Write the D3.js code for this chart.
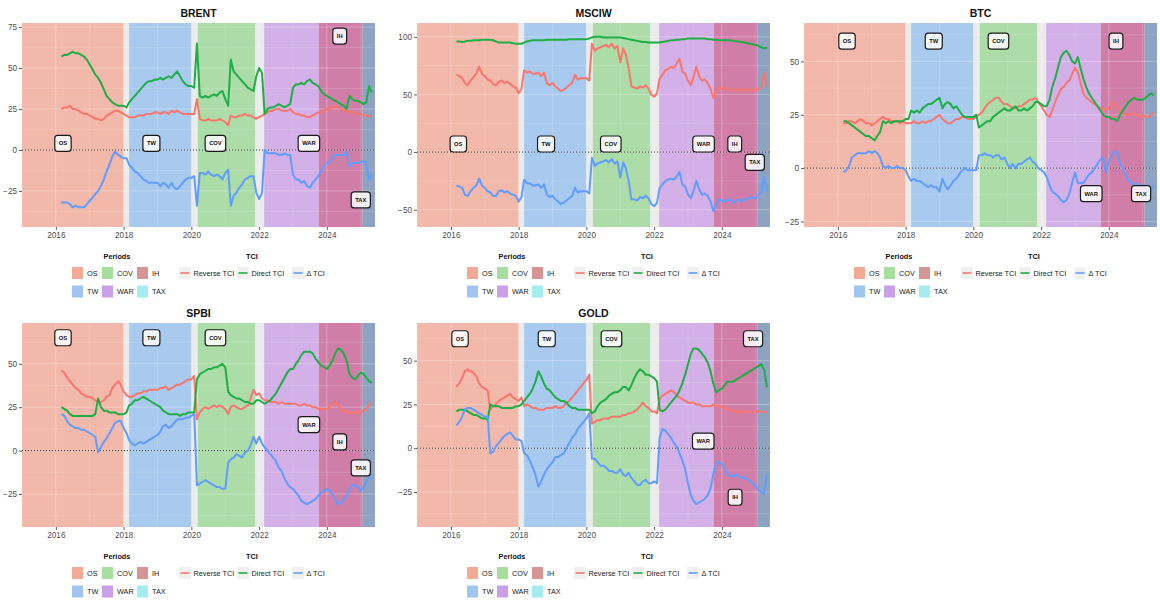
<!DOCTYPE html>
<html>
<head>
<meta charset="utf-8">
<script src="https://cdn.jsdelivr.net/npm/d3@7"></script>
<style>
  html, body { margin: 0; padding: 0; background: #ffffff; }
  svg { display: block; font-family: "Liberation Sans", Arial, sans-serif; }
</style>
</head>
<body>
<svg id="chart" width="1160" height="601"></svg>
<script>
// ---------------------------------------------------------------
// Monthly observations, March 2016 to May 2025 (111 months)
// ---------------------------------------------------------------
const months = d3.timeMonth.range(new Date(2016, 2, 1), new Date(2025, 5, 1));

// Event periods
const periodNames  = ["OS", "TW", "COV", "WAR", "IH", "TAX"];
const periodStarts = ["2015-01-01", "2018-03-01", "2020-03-11", "2022-02-24", "2023-10-07", "2025-01-20"];
const periodEnds   = ["2018-01-01", "2020-01-01", "2021-11-18", "2023-10-07", "2025-01-20", "2025-06-03"];
const periodFills  = ["#f2b8aa", "#a9caef", "#acdca7", "#d3b1e8", "#d07ea8", "#8ea3c2"];
const periodKeys   = ["#f2a995", "#9fc5f0", "#a6dea0", "#c9a0e8", "#d69595", "#a5ecf0"];

// Connectedness series
const tciNames  = ["Reverse TCI", "Direct TCI", "\u0394 TCI"];
const tciColors = ["#F8766D", "#1fae45", "#619CFF"];

// ---------------- BRENT ----------------
const brentReverse = [
  25, 26, 26, 27, 25, 25, 24, 23, 22, 22,
  21, 20, 19, 19, 18, 19, 21, 22, 23, 24, 24, 23,
  22, 21, 20, 20, 20, 21, 21, 21, 22, 22, 22, 23,
  23, 22, 23, 23, 22, 24, 23, 24, 23, 22, 22, 22,
  22, 22, 31, 19, 18, 18, 19, 18, 18, 18, 19, 18,
  17, 15, 21, 20, 20, 21, 21, 22, 21, 21, 20, 19,
  20, 21, 22, 23, 24, 24, 25, 25, 24, 24, 24, 25,
  23, 22, 22, 21, 21, 20, 20, 21, 22, 23, 23, 24,
  25, 25, 26, 27, 26, 25, 24, 24, 23, 23, 22, 22,
  22, 21, 21, 21, 20
];
const brentDirect = [
  57, 58, 58, 59, 60, 59, 59, 58, 57, 55,
  52, 49, 46, 44, 41, 37, 33, 31, 29, 28, 27, 27,
  27, 26, 29, 31, 33, 35, 37, 39, 41, 42, 42, 43,
  43, 44, 43, 44, 45, 44, 46, 48, 45, 42, 40, 39,
  39, 38, 65, 33, 32, 33, 32, 33, 34, 33, 35, 36,
  31, 27, 55, 48, 46, 44, 42, 40, 38, 37, 36, 45,
  50, 47, 22, 25, 26, 26, 27, 28, 27, 26, 27, 28,
  38, 40, 40, 41, 40, 42, 43, 41, 40, 39, 36, 34,
  33, 32, 31, 30, 29, 28, 27, 25, 33, 31, 30, 30,
  29, 28, 29, 39, 35
];
const brentDelta = [
  -32, -32, -32, -33, -35, -34, -35, -35, -35, -33,
  -31, -29, -27, -25, -22, -18, -13, -9, -4, -1, -3, -4,
  -5, -5, -9, -11, -13, -14, -16, -18, -19, -20, -20, -20,
  -20, -22, -20, -21, -23, -20, -23, -24, -22, -20, -18, -17,
  -17, -16, -34, -14, -14, -15, -13, -15, -16, -15, -16, -18,
  -14, -12, -34, -28, -26, -23, -21, -18, -17, -16, -16, -26,
  -30, -26, 0, -2, -2, -2, -2, -3, -3, -2, -3, -3,
  -15, -18, -18, -20, -19, -22, -23, -20, -18, -16, -13, -10,
  -8, -7, -5, -3, -3, -3, -3, -1, -10, -8, -8, -8,
  -7, -7, -8, -18, -15
];
const brentLabels = [["OS", 2016.21, 4], ["TW", 2018.82, 4], ["COV", 2020.71, 4],
                     ["WAR", 2023.47, 4], ["IH", 2024.38, 69.5], ["TAX", 2025.0, -30.5]];

// ---------------- MSCIW ----------------
const msciwReverse = [
  67, 66, 64, 60, 58, 62, 65, 68, 74, 68,
  66, 63, 62, 59, 58, 61, 62, 60, 61, 59, 57, 56,
  51, 55, 71, 69, 70, 68, 68, 69, 66, 69, 60, 58,
  60, 57, 55, 53, 54, 56, 58, 60, 67, 63, 64, 64,
  64, 62, 94, 88, 90, 91, 92, 93, 91, 94, 90, 92,
  78, 90, 85, 73, 57, 56, 55, 57, 56, 58, 55, 50,
  48, 51, 64, 67, 71, 72, 74, 73, 77, 81, 70, 68,
  62, 58, 65, 74, 66, 62, 63, 60, 55, 47, 52, 56,
  55, 54, 56, 55, 53, 54, 55, 53, 54, 53, 55, 54,
  53, 55, 56, 69, 57
];
const msciwDirect = [
  96, 96, 95.5, 96, 96.5, 96.5, 97, 97, 97, 97.5,
  97.5, 97.5, 97.5, 97, 96, 95, 95, 95, 95, 95, 94.5, 94,
  94, 94, 95, 96, 96.5, 97, 97, 97, 97, 97, 97.5, 97.5,
  97.5, 97.5, 97.5, 97.5, 97.5, 97.5, 98, 98, 98, 98, 98, 98,
  98, 98.5, 99.5, 100, 100, 100, 99.5, 99.5, 99.5, 99.5, 99.5, 99.5,
  99.5, 99, 98.5, 98, 97.5, 97, 96.5, 96, 95.5, 95.5, 95, 95,
  95, 95, 95, 95.5, 96, 96.5, 97, 97, 97.5, 97.5, 98, 98,
  98.5, 98.5, 98.5, 98.5, 98.5, 98.5, 98.5, 98, 98, 97.5, 97.5, 97,
  97, 97, 97, 97, 96.5, 96, 96, 95.5, 95, 94.5, 94, 93.5,
  93, 92, 91, 90, 90.5
];
const msciwDelta = [
  -29, -30, -31, -37, -38, -34, -31, -29, -23, -29,
  -31, -34, -35, -38, -38, -34, -33, -35, -34, -36, -37, -38,
  -43, -39, -24, -27, -27, -29, -29, -28, -31, -28, -37, -39,
  -38, -41, -43, -45, -44, -42, -40, -38, -31, -35, -34, -34,
  -34, -36, -5, -12, -10, -9, -8, -7, -9, -6, -10, -8,
  -22, -9, -14, -25, -41, -41, -42, -39, -40, -38, -40, -45,
  -47, -44, -31, -28, -25, -24, -23, -24, -21, -17, -28, -30,
  -37, -40, -34, -25, -32, -37, -36, -38, -43, -51, -46, -41,
  -42, -43, -41, -42, -44, -42, -41, -43, -41, -41, -39, -40,
  -40, -37, -35, -21, -34
];
const msciwLabels = [["OS", 2016.22, 7], ["TW", 2018.81, 7], ["COV", 2020.72, 7],
                     ["WAR", 2023.46, 7], ["IH", 2024.38, 7], ["TAX", 2024.97, -9]];

// ---------------- BTC ----------------
const btcReverse = [
  21, 21, 22, 22, 21, 22, 23, 22, 21, 21,
  20, 21, 22, 23, 24, 23, 23, 22, 22, 22, 21, 22,
  21, 21, 21, 22, 21, 21, 22, 21, 22, 22, 23, 24,
  25, 23, 22, 21, 21, 22, 23, 23, 24, 24, 23, 23,
  23, 24, 25, 26, 28, 30, 31, 32, 33, 33, 31, 30,
  30, 29, 28, 28, 29, 29, 30, 31, 32, 32, 33, 31,
  29, 27, 25, 24, 27, 31, 34, 37, 38, 40, 41, 44,
  47, 45, 40, 35, 33, 32, 31, 30, 29, 28, 27, 28,
  28, 30, 31, 29, 27, 26, 25, 25, 25, 26, 25, 24,
  25, 24, 24, 25, 26
];
const btcDirect = [
  22, 22, 21, 20, 19, 18, 17, 16, 15, 15,
  14, 13, 15, 17, 22, 21, 22, 21, 22, 22, 22, 22,
  23, 23, 27, 26, 27, 26, 28, 29, 30, 30, 31, 32,
  33, 28, 30, 31, 30, 28, 29, 27, 25, 24, 24, 24,
  24, 25, 19, 20, 21, 22, 22, 24, 25, 26, 27, 28,
  27, 27, 28, 29, 27, 27, 28, 27, 28, 29, 31, 31,
  30, 29, 29, 32, 38, 42, 47, 52, 54, 55, 53, 50,
  49, 52, 47, 42, 38, 35, 33, 31, 29, 27, 25, 24,
  24, 23, 23, 22, 25, 27, 29, 31, 32, 33, 32, 32,
  32, 33, 34, 35, 34
];
const btcDelta = [
  -2, -1, 1, 5, 6, 7, 7, 7, 7, 8,
  7, 8, 7, 5, 1, 0, 1, 0, 0, 1, 0, 0,
  -1, -4, -6, -5, -6, -6, -7, -8, -9, -8, -9, -9,
  -11, -5, -8, -10, -8, -6, -5, -3, -1, 0, -1, -1,
  -1, -1, 6, 6, 7, 6, 6, 5, 6, 6, 4, 5,
  2, 0, 2, 0, 2, 2, 3, 4, 5, 3, 2, 0,
  -1, -2, -4, -8, -11, -12, -13, -15, -16, -15, -12, -7,
  -2, -7, -7, -7, -5, -3, -2, 0, 2, 4, 5, -2,
  3, 6, 8, 7, 2, 0, -3, -6, -7, -8, -7, -9,
  -8, -9, -10, -10, -8
];
const btcLabels = [["OS", 2016.27, 59.5], ["TW", 2018.83, 59.5], ["COV", 2020.74, 59.5],
                   ["WAR", 2023.48, -12], ["IH", 2024.21, 59.5], ["TAX", 2024.95, -12]];

// ---------------- SPBI ----------------
const spbiReverse = [
  46, 45, 42, 40, 38, 36, 35, 33, 32, 31,
  31, 30, 29, 28, 28, 29, 31, 32, 36, 38, 40, 38,
  34, 32, 31, 31, 32, 33, 33, 34, 34, 35, 35, 35,
  35, 36, 36, 37, 35, 36, 37, 38, 38, 39, 40, 41,
  41, 43, 18, 22, 24, 25, 24, 25, 26, 25, 26, 25,
  24, 21, 25, 26, 25, 24, 24, 25, 26, 30, 35, 32,
  33, 30, 29, 29, 28, 28, 28, 27, 28, 27, 27, 27,
  27, 27, 26, 26, 27, 26, 26, 25, 25, 24, 24, 24,
  24, 25, 27, 28, 26, 24, 23, 22, 22, 22, 22, 22,
  22, 23, 24, 26, 28
];
const spbiDirect = [
  25, 24, 23, 21, 20, 20, 20, 20, 20, 20,
  20, 20, 21, 30, 25, 23, 23, 22, 22, 22, 21, 21,
  21, 22, 26, 27, 29, 29, 30, 31, 30, 29, 28, 27,
  26, 25, 23, 22, 21, 21, 21, 21, 20, 21, 21, 22,
  22, 22, 41, 44, 45, 46, 47, 47, 48, 48, 49, 50,
  48, 34, 32, 31, 30, 30, 29, 28, 28, 27, 27, 29,
  29, 28, 27, 28, 29, 31, 33, 36, 39, 42, 45, 47,
  47, 50, 52, 55, 57, 57, 57, 56, 53, 51, 49, 48,
  47, 49, 52, 56, 59, 58, 56, 52, 44, 42, 41, 43,
  45, 44, 42, 40, 39
];
const spbiDelta = [
  21, 20, 17, 15, 14, 13, 13, 12, 12, 11,
  10, 9, 8, -1, 2, 5, 7, 10, 13, 16, 17, 17,
  13, 10, 6, 4, 3, 4, 5, 4, 5, 6, 7, 8,
  9, 11, 14, 15, 13, 14, 16, 18, 18, 18, 19, 19,
  20, 21, -20, -19, -18, -17, -18, -19, -20, -21, -21, -22,
  -22, -7, -5, -4, -2, -3, -4, -1, 0, 3, 8, 4,
  8, 4, 2, 0, -2, -4, -6, -10, -12, -16, -19, -21,
  -22, -24, -26, -29, -30, -31, -30, -29, -28, -26, -24, -23,
  -22, -23, -25, -28, -31, -30, -28, -26, -22, -20, -20, -21,
  -23, -21, -18, -15, -13
];
const spbiLabels = [["OS", 2016.21, 65], ["TW", 2018.82, 65], ["COV", 2020.71, 65],
                    ["WAR", 2023.47, 15], ["IH", 2024.38, 5], ["TAX", 2025.0, -10]];

// ---------------- GOLD ----------------
const goldReverse = [
  35, 37, 40, 44, 45, 44, 43, 41, 37, 35,
  34, 33, 22, 24, 25, 27, 28, 29, 30, 31, 29, 28,
  27, 29, 24, 25, 24, 23, 23, 22, 22, 22, 23, 23,
  23, 24, 23, 23, 24, 26, 27, 29, 31, 33, 35, 37,
  39, 42, 14, 15, 16, 16, 17, 17, 17, 18, 18, 18,
  18, 19, 19, 20, 20, 21, 22, 24, 26, 24, 23, 21,
  21, 20, 28, 30, 31, 32, 33, 32, 30, 29, 28, 27,
  26, 26, 26, 25, 25, 24, 24, 24, 24, 25, 24, 24,
  24, 23, 22, 22, 21, 21, 20, 21, 21, 21, 21, 21,
  21, 21, 21, 21, 20
];
const goldDirect = [
  21, 22, 22, 22, 21, 20, 19, 19, 18, 17,
  17, 16, 25, 24, 24, 24, 23, 23, 23, 23, 23, 24,
  24, 25, 27, 29, 31, 34, 38, 44, 41, 37, 34, 33,
  31, 29, 28, 27, 27, 26, 24, 23, 23, 22, 22, 22,
  22, 22, 20, 21, 24, 26, 27, 28, 30, 31, 32, 32,
  33, 35, 35, 33, 36, 40, 43, 45, 44, 42, 42, 41,
  40, 38, 22, 21, 22, 24, 26, 28, 30, 33, 37, 42,
  48, 54, 57, 57, 56, 54, 52, 49, 44, 37, 32, 33,
  34, 36, 38, 38, 38, 39, 40, 41, 42, 43, 44, 45,
  46, 47, 48, 45, 35
];
const goldDelta = [
  13, 15, 18, 22, 23, 23, 22, 21, 20, 19,
  18, 18, -3, -2, 1, 3, 5, 7, 8, 9, 7, 5,
  5, 4, -3, -4, -7, -11, -15, -22, -19, -15, -12, -10,
  -8, -5, -5, -4, -3, 0, 3, 6, 8, 11, 13, 15,
  17, 20, -6, -6, -8, -10, -10, -11, -13, -13, -14, -14,
  -12, -15, -16, -14, -17, -19, -21, -21, -19, -18, -20, -20,
  -19, -20, 6, 11, 10, 8, 6, 3, 1, -3, -7, -12,
  -20, -27, -30, -32, -31, -30, -29, -27, -23, -15, -8, -8,
  -9, -12, -15, -16, -16, -15, -16, -17, -17, -18, -19, -20,
  -22, -24, -25, -26, -15
];
const goldLabels = [["OS", 2016.27, 62.5], ["TW", 2018.83, 62.5], ["COV", 2020.74, 62.5],
                    ["WAR", 2023.45, 4], ["IH", 2024.39, -28], ["TAX", 2024.92, 62.5]];

// ---------------------------------------------------------------
// Panel settings
// ---------------------------------------------------------------
const panels = [
  { title: "BRENT", ox: 0,   oy: 0,   yDomain: [-47, 77.5],  yTicks: [-25, 0, 25, 50, 75],
    series: [brentReverse, brentDirect, brentDelta], labels: brentLabels },
  { title: "MSCIW", ox: 395, oy: 0,   yDomain: [-65, 112],   yTicks: [-50, 0, 50, 100],
    series: [msciwReverse, msciwDirect, msciwDelta], labels: msciwLabels },
  { title: "BTC",   ox: 782, oy: 0,   yDomain: [-27.6, 68],  yTicks: [-25, 0, 25, 50],
    series: [btcReverse, btcDirect, btcDelta], labels: btcLabels },
  { title: "SPBI",  ox: 0,   oy: 300, yDomain: [-44, 73.5],  yTicks: [-25, 0, 25, 50],
    series: [spbiReverse, spbiDirect, spbiDelta], labels: spbiLabels },
  { title: "GOLD",  ox: 395, oy: 300, yDomain: [-45, 71.5],  yTicks: [-25, 0, 25, 50],
    series: [goldReverse, goldDirect, goldDelta], labels: goldLabels }
];

// decimal year -> Date
function fromYear(y) {
  const yr = Math.floor(y);
  const a = new Date(yr, 0, 1).getTime(), b = new Date(yr + 1, 0, 1).getTime();
  return new Date(a + (y - yr) * (b - a));
}
const parseDay = d3.timeParse("%Y-%m-%d");

const svg = d3.select("#chart");
const xDomain = [fromYear(2015.0), fromYear(2025.42)];
const xTickDates = [2016, 2018, 2020, 2022, 2024].map(y => new Date(y, 0, 1));
const xMinorDates = [2015, 2017, 2019, 2021, 2023, 2025].map(y => new Date(y, 0, 1));

panels.forEach((p, pi) => {
  const left = p.ox + 22, right = p.ox + 375, top = p.oy + 23, bottom = p.oy + 227;
  const x = d3.scaleTime().domain(xDomain).range([left, right]);
  const y = d3.scaleLinear().domain(p.yDomain).range([bottom, top]);
  const g = svg.append("g").attr("class", "panel");

  // clip
  const clipId = "clip" + pi;
  svg.append("clipPath").attr("id", clipId)
    .append("rect").attr("x", left).attr("y", top).attr("width", right - left).attr("height", bottom - top);

  // panel background
  g.append("rect").attr("x", left).attr("y", top).attr("width", right - left).attr("height", bottom - top)
    .attr("fill", "#ebebeb");

  // period shading
  const plotArea = g.append("g").attr("clip-path", `url(#${clipId})`);
  periodNames.forEach((name, i) => {
    const x0 = x(parseDay(periodStarts[i])), x1 = x(parseDay(periodEnds[i]));
    plotArea.append("rect")
      .attr("x", x0).attr("y", top).attr("width", Math.max(0, x1 - x0)).attr("height", bottom - top)
      .attr("fill", periodFills[i]);
  });

  // faint grid
  const grid = plotArea.append("g").attr("stroke", "#ffffff").attr("stroke-opacity", 0.28);
  xTickDates.forEach(d => grid.append("line").attr("x1", x(d)).attr("x2", x(d)).attr("y1", top).attr("y2", bottom).attr("stroke-width", 1));
  xMinorDates.forEach(d => grid.append("line").attr("x1", x(d)).attr("x2", x(d)).attr("y1", top).attr("y2", bottom).attr("stroke-width", 0.5));
  p.yTicks.forEach(v => grid.append("line").attr("x1", left).attr("x2", right).attr("y1", y(v)).attr("y2", y(v)).attr("stroke-width", 1));
  const step = p.yTicks[1] - p.yTicks[0];
  d3.range(p.yTicks[0] - step / 2, p.yDomain[1], step).forEach(v => {
    if (v > p.yDomain[0]) grid.append("line").attr("x1", left).attr("x2", right).attr("y1", y(v)).attr("y2", y(v)).attr("stroke-width", 0.5);
  });

  // zero reference
  plotArea.append("line").attr("x1", left).attr("x2", right).attr("y1", y(0)).attr("y2", y(0))
    .attr("stroke", "#222").attr("stroke-width", 0.9).attr("stroke-dasharray", "1,2");

  // series lines
  const line = d3.line().x((d, i) => x(months[i])).y(d => y(d));
  p.series.forEach((vals, si) => {
    plotArea.append("path").datum(vals)
      .attr("d", line)
      .attr("fill", "none")
      .attr("stroke", tciColors[si])
      .attr("stroke-width", 2)
      .attr("stroke-linejoin", "round");
  });

  // period labels
  p.labels.forEach(([name, yr, val]) => {
    const cx = x(fromYear(yr)), cy = y(val);
    const lg = g.append("g");
    const t = lg.append("text").attr("x", cx).attr("y", cy + 2)
      .attr("text-anchor", "middle").attr("font-size", 5.8).attr("font-weight", "bold")
      .attr("fill", "#111").text(name);
    const w = t.node().getComputedTextLength() + 8;
    lg.insert("rect", "text")
      .attr("x", cx - w / 2).attr("y", cy - 8).attr("width", w).attr("height", 16)
      .attr("rx", 3).attr("fill", "#ffffff").attr("fill-opacity", 0.85)
      .attr("stroke", "#1a1a1a").attr("stroke-width", 1.2);
  });

  // axes
  const xAxis = d3.axisBottom(x).tickValues(xTickDates).tickFormat(d3.timeFormat("%Y")).tickSize(3).tickPadding(2);
  const yAxis = d3.axisLeft(y).tickValues(p.yTicks).tickFormat(d3.format("d")).tickSize(3).tickPadding(2);
  const gx = g.append("g").attr("transform", `translate(0,${bottom})`).call(xAxis);
  const gy = g.append("g").attr("transform", `translate(${left},0)`).call(yAxis);
  [gx, gy].forEach(ax => {
    ax.select(".domain").remove();
    ax.selectAll(".tick line").attr("stroke", "#333").attr("stroke-width", 0.8);
    ax.selectAll(".tick text").attr("fill", "#4d4d4d").attr("font-size", 8.2)
      .attr("font-family", "Liberation Sans, Arial, sans-serif");
  });

  // title
  g.append("text").attr("x", (left + right) / 2).attr("y", p.oy + 17)
    .attr("text-anchor", "middle").attr("font-size", 10.5).attr("font-weight", "bold")
    .attr("fill", "#111").text(p.title);

  // legends
  const lgY = p.oy + 259;
  g.append("text").attr("x", p.ox + 117).attr("y", lgY).attr("text-anchor", "middle")
    .attr("font-size", 7.3).attr("font-weight", "bold").attr("fill", "#111").text("Periods");
  const colX = [72, 102, 137];
  periodNames.forEach((name, i) => {
    const cx = p.ox + colX[Math.floor(i / 2)], cy = p.oy + 273 + (i % 2) * 18.5;
    g.append("rect").attr("x", cx).attr("y", cy - 6).attr("width", 11).attr("height", 12)
      .attr("fill", periodKeys[i]);
    g.append("text").attr("x", cx + 15).attr("y", cy + 2.6).attr("font-size", 7.3)
      .attr("fill", "#222").text(name);
  });

  g.append("text").attr("x", p.ox + 252).attr("y", lgY).attr("text-anchor", "middle")
    .attr("font-size", 7.3).attr("font-weight", "bold").attr("fill", "#111").text("TCI");
  const tciX = [179, 237, 292];
  tciNames.forEach((name, i) => {
    const cx = p.ox + tciX[i], cy = p.oy + 273;
    g.append("rect").attr("x", cx).attr("y", cy - 6).attr("width", 12).attr("height", 12)
      .attr("fill", "#f0f0f0");
    g.append("line").attr("x1", cx + 1.5).attr("x2", cx + 10.5).attr("y1", cy).attr("y2", cy)
      .attr("stroke", tciColors[i]).attr("stroke-width", 1.6);
    g.append("text").attr("x", cx + 14.5).attr("y", cy + 2.6).attr("font-size", 7.3)
      .attr("fill", "#222").text(name);
  });
});
</script>
</body>
</html>
